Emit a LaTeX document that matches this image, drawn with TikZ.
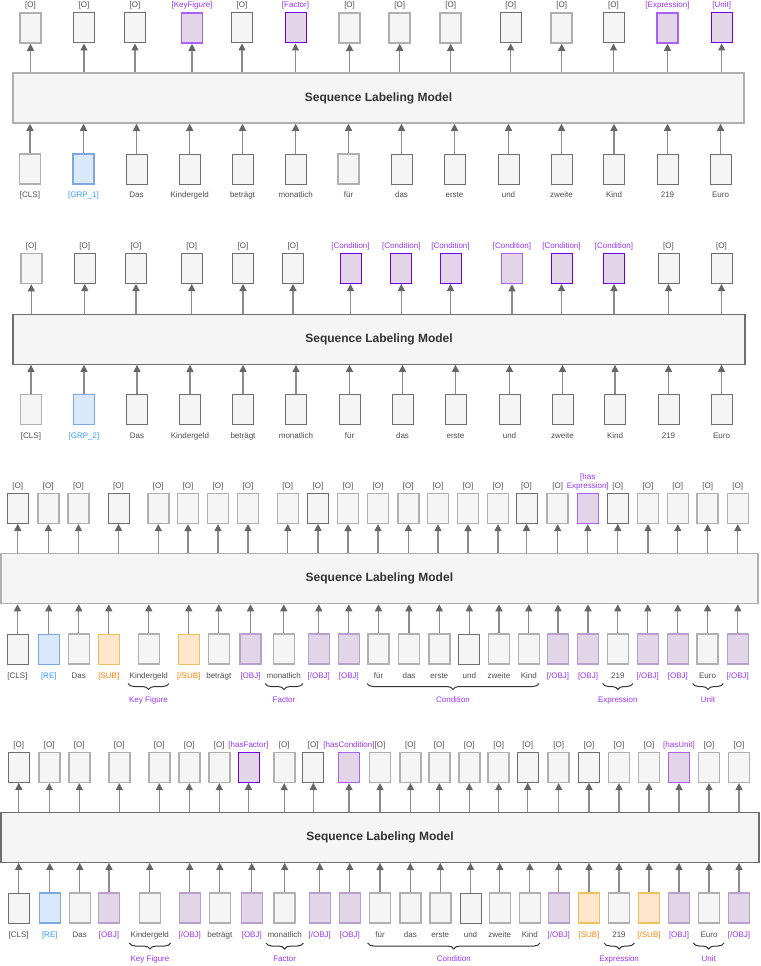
\documentclass[tikz,border=0pt]{standalone}
\usepackage{fontspec}
\setmainfont{Liberation Sans}
\usetikzlibrary{arrows.meta,decorations.pathreplacing,calc}
\definecolor{boxfill}{HTML}{F5F5F5}
\definecolor{cD}{HTML}{6E6E6E}
\definecolor{cL}{HTML}{B0B0B0}
\definecolor{pfill}{HTML}{E1D5E7}
\definecolor{cPD}{HTML}{7000E6}
\definecolor{cPL}{HTML}{A862F5}
\definecolor{cPM}{HTML}{B8A0CC}
\definecolor{bfill}{HTML}{DAE8FC}
\definecolor{cBB}{HTML}{7EA6E0}
\definecolor{ofill}{HTML}{FFE6CC}
\definecolor{cOB}{HTML}{EEC15A}
\definecolor{cT}{HTML}{4D4D4D}
\definecolor{cP}{HTML}{9933FF}
\definecolor{cB}{HTML}{3399FF}
\definecolor{cO}{HTML}{FF8000}
\definecolor{cA}{HTML}{8C8C8C}
\definecolor{cAH}{HTML}{666666}
\definecolor{cTitle}{HTML}{333333}
\begin{document}
\begin{tikzpicture}[x=1pt,y=-1pt,
  box/.style={draw, fill=boxfill, minimum width=21pt, minimum height=30pt, inner sep=0pt, line width=1pt},
  bxD/.style={box, draw=cD},
  bxL/.style={box, draw=cL, line width=1.6pt},
  bxPD/.style={box, fill=pfill, draw=cPD},
  bxPL/.style={box, fill=pfill, draw=cPL, line width=1.6pt},
  bxPM/.style={box, fill=pfill, draw=cPM, line width=1.6pt},
  bxB/.style={box, fill=bfill, draw=cBB, line width=1.4pt},
  bxO/.style={box, fill=ofill, draw=cOB, line width=1.4pt},
  model/.style={draw=cD, fill=boxfill, line width=1.2pt, minimum height=50pt, inner sep=0pt,
    font=\fontsize{12}{14}\selectfont\bfseries, text=cTitle},
  toplab/.style={font=\fontsize{8}{9}\selectfont, anchor=south, inner sep=0pt, text depth=2pt, align=center},
  botlab/.style={font=\fontsize{8}{9}\selectfont, anchor=north, inner sep=0pt, text height=6pt, text depth=2pt},
  conn/.style={draw=cA, line width=1.3pt, -{Triangle[width=7pt,length=7pt,color=cAH]}},
  brace/.style={draw=cTitle, line width=1pt, decorate, decoration={brace, mirror, amplitude=6pt}}
]
\useasboundingbox (0,0) rectangle (760,966);

% ================= Panel 1 =================
\node[model, draw=cL, line width=1.6pt, minimum width=731pt] (m1) at (378.5,98) {Sequence Labeling Model};
\foreach \x/\s/\t/\c [count=\i] in {30.5/bxL/{[O]}/cT, 84/bxD/{[O]}/cT, 135/bxD/{[O]}/cT, 192/bxPL/{[KeyFigure]}/cP, 242/bxD/{[O]}/cT, 295.5/bxPD/{[Factor]}/cP, 349.6/bxL/{[O]}/cT, 399.7/bxL/{[O]}/cT, 450.7/bxL/{[O]}/cT, 510.7/bxD/{[O]}/cT, 561.7/bxL/{[O]}/cT, 613.5/bxD/{[O]}/cT, 667.5/bxPL/{[Expression]}/cP, 721.7/bxPD/{[Unit]}/cP}{
  \node[\s] (ta\i) at (\x,28) {};
  \node[toplab, text=\c] (tla\i) at (\x,10) {\t};
  \draw[conn] (ta\i.south |- m1.north) -- (ta\i.south);
}
\foreach \x/\s/\t/\c [count=\i] in {30/bxL/{[CLS]}/cT, 83.5/bxB/{[GRP\_1]}/cB, 136.5/bxD/Das/cT, 189.7/bxD/Kindergeld/cT, 242.5/bxD/beträgt/cT, 295.7/bxD/monatlich/cT, 348.5/bxL/für/cT, 401.5/bxD/das/cT, 454.5/bxD/erste/cT, 508.5/bxD/und/cT, 561.5/bxD/zweite/cT, 614/bxD/Kind/cT, 667.5/bxD/219/cT, 720.5/bxD/Euro/cT}{
  \node[\s] (ba\i) at (\x,169) {};
  \node[botlab, text=\c] (bla\i) at (\x,191.6) {\t};
  \draw[conn] (ba\i.north) -- (ba\i.north |- m1.south);
}

% ================= Panel 2 =================
\node[model, minimum width=732pt] (m2) at (379,339.3) {Sequence Labeling Model};
\foreach \x/\s/\t/\c [count=\i] in {31.3/bxL/{[O]}/cT, 84.8/bxD/{[O]}/cT, 136/bxD/{[O]}/cT, 191.7/bxD/{[O]}/cT, 243/bxD/{[O]}/cT, 293/bxD/{[O]}/cT, 350.5/bxPD/{[Condition]}/cP, 401.3/bxPD/{[Condition]}/cP, 450.5/bxPD/{[Condition]}/cP, 512/bxPL/{[Condition]}/cP, 561.5/bxPD/{[Condition]}/cP, 614/bxPD/{[Condition]}/cP, 668.5/bxD/{[O]}/cT, 721.5/bxD/{[O]}/cT}{
  \node[\s] (tb\i) at (\x,268.5) {};
  \node[toplab, text=\c] (tlb\i) at (\x,250.5) {\t};
  \draw[conn] (tb\i.south |- m2.north) -- (tb\i.south);
}
\foreach \x/\s/\t/\c [count=\i] in {31/bxL/{[CLS]}/cT, 84/bxB/{[GRP\_2]}/cB, 137/bxD/Das/cT, 190/bxD/Kindergeld/cT, 243/bxD/beträgt/cT, 296/bxD/monatlich/cT, 349.5/bxD/für/cT, 402.5/bxD/das/cT, 455.5/bxD/erste/cT, 509.5/bxD/und/cT, 562.5/bxD/zweite/cT, 615/bxD/Kind/cT, 668.5/bxD/219/cT, 721.5/bxD/Euro/cT}{
  \node[\s] (bb\i) at (\x,409.5) {};
  \node[botlab, text=\c] (blb\i) at (\x,432.3) {\t};
  \draw[conn] (bb\i.north) -- (bb\i.north |- m2.south);
}

% ================= Panel 3 =================
\node[model, draw=cL, line width=1.6pt, minimum width=757pt] (m3) at (379.4,578.5) {Sequence Labeling Model};
\foreach \x/\s/\t/\c [count=\i] in {17.8/bxD/{[O]}/cT, 48.3/bxL/{[O]}/cT, 78.5/bxL/{[O]}/cT, 118.5/bxD/{[O]}/cT, 158.3/bxL/{[O]}/cT, 188/bxL/{[O]}/cT, 218/bxL/{[O]}/cT, 248/bxL/{[O]}/cT, 287.8/bxL/{[O]}/cT, 318/bxD/{[O]}/cT, 348/bxL/{[O]}/cT, 378/bxL/{[O]}/cT, 408.3/bxL/{[O]}/cT, 438/bxL/{[O]}/cT, 468/bxL/{[O]}/cT, 498/bxL/{[O]}/cT, 526.5/bxD/{[O]}/cT, 557.7/bxL/{[O]}/cT, 587.8/bxPL/{[has\\Expression]}/cP, 617.8/bxD/{[O]}/cT, 648/bxL/{[O]}/cT, 677.8/bxL/{[O]}/cT, 707.7/bxL/{[O]}/cT, 737.8/bxL/{[O]}/cT}{
  \node[\s] (tc\i) at (\x,508.3) {};
  \node[toplab, text=\c] (tlc\i) at (\x,490.3) {\t};
  \draw[conn] (tc\i.south |- m3.north) -- (tc\i.south);
}
\foreach \x/\s/\t/\c [count=\i] in {17.5/bxD/{[CLS]}/cT, 48.8/bxB/{[RE]}/cB, 78.8/bxL/Das/cT, 108.8/bxO/{[SUB]}/cO, 148.8/bxL/Kindergeld/cT, 188.8/bxO/{[/SUB]}/cO, 218.8/bxL/beträgt/cT, 250.5/bxPM/{[OBJ]}/cP, 283.8/bxL/monatlich/cT, 318.8/bxPM/{[/OBJ]}/cP, 348.8/bxPM/{[OBJ]}/cP, 378.5/bxL/für/cT, 409/bxL/das/cT, 439.3/bxL/erste/cT, 469.3/bxD/und/cT, 499/bxL/zweite/cT, 528.8/bxL/Kind/cT, 558/bxPM/{[/OBJ]}/cP, 588/bxPM/{[OBJ]}/cP, 617.8/bxL/219/cT, 647.8/bxPM/{[/OBJ]}/cP, 677.8/bxPM/{[OBJ]}/cP, 707.5/bxL/Euro/cT, 737.8/bxPM/{[/OBJ]}/cP}{
  \node[\s] (bc\i) at (\x,649.2) {};
  \node[botlab, text=\c] (blc\i) at (\x,671.9) {\t};
  \draw[conn] (bc\i.north) -- (bc\i.north |- m3.south);
}
\foreach \a/\b/\t [count=\i] in {128/169/Key Figure, 265/303/Factor, 367/539/Condition, 602.7/633/Expression, 692.7/723.3/Unit}{
  \coordinate (brc\i a) at (\a,683.5);
  \coordinate (brc\i b) at (\b,683.5);
  \draw[brace] (brc\i a) -- (brc\i b);
  \node[botlab, text=cP] (brcl\i) at ($(brc\i a)!0.5!(brc\i b)+(0,12.5)$) {\t};
}

% ================= Panel 4 =================
\node[model, minimum width=758pt] (m4) at (380,837.3) {Sequence Labeling Model};
\foreach \x/\s/\t/\c [count=\i] in {18.8/bxD/{[O]}/cT, 49.3/bxL/{[O]}/cT, 79.3/bxL/{[O]}/cT, 119.3/bxL/{[O]}/cT, 159.3/bxL/{[O]}/cT, 189.3/bxL/{[O]}/cT, 219.3/bxL/{[O]}/cT, 248.5/bxPD/{[hasFactor]}/cP, 284.2/bxL/{[O]}/cT, 313.3/bxD/{[O]}/cT, 349/bxPL/{[hasCondition]}/cP, 380/bxL/{[O]}/cT, 410.5/bxL/{[O]}/cT, 439.3/bxL/{[O]}/cT, 469.3/bxL/{[O]}/cT, 498.7/bxL/{[O]}/cT, 527.7/bxD/{[O]}/cT, 558.7/bxL/{[O]}/cT, 589/bxD/{[O]}/cT, 619/bxL/{[O]}/cT, 649/bxL/{[O]}/cT, 679/bxPL/{[hasUnit]}/cP, 709/bxL/{[O]}/cT, 739/bxL/{[O]}/cT}{
  \node[\s] (td\i) at (\x,767.3) {};
  \node[toplab, text=\c] (tld\i) at (\x,749.3) {\t};
  \draw[conn] (td\i.south |- m4.north) -- (td\i.south);
}
\foreach \x/\s/\t/\c [count=\i] in {18.7/bxD/{[CLS]}/cT, 49.8/bxB/{[RE]}/cB, 79.8/bxL/Das/cT, 109/bxPM/{[OBJ]}/cP, 149.8/bxL/Kindergeld/cT, 189.8/bxPM/{[/OBJ]}/cP, 219.8/bxL/beträgt/cT, 251.8/bxPM/{[OBJ]}/cP, 284.7/bxL/monatlich/cT, 319.8/bxPM/{[/OBJ]}/cP, 349.8/bxPM/{[OBJ]}/cP, 380/bxL/für/cT, 410.3/bxL/das/cT, 440.3/bxL/erste/cT, 470.5/bxD/und/cT, 499.8/bxL/zweite/cT, 529.8/bxL/Kind/cT, 558.8/bxPM/{[/OBJ]}/cP, 589/bxO/{[SUB]}/cO, 619/bxL/219/cT, 649/bxO/{[/SUB]}/cO, 679/bxPM/{[OBJ]}/cP, 709/bxL/Euro/cT, 739/bxPM/{[/OBJ]}/cP}{
  \node[\s] (bd\i) at (\x,908) {};
  \node[botlab, text=\c] (bld\i) at (\x,930.9) {\t};
  \draw[conn] (bd\i.north) -- (bd\i.north |- m4.south);
}
\foreach \a/\b/\t [count=\i] in {129.3/170.7/Key Figure, 266/303.3/Factor, 367.7/540/Condition, 604/634.3/Expression, 693.3/724/Unit}{
  \coordinate (brd\i a) at (\a,943);
  \coordinate (brd\i b) at (\b,943);
  \draw[brace] (brd\i a) -- (brd\i b);
  \node[botlab, text=cP] (brdl\i) at ($(brd\i a)!0.5!(brd\i b)+(0,12.5)$) {\t};
}
\end{tikzpicture}
\end{document}
